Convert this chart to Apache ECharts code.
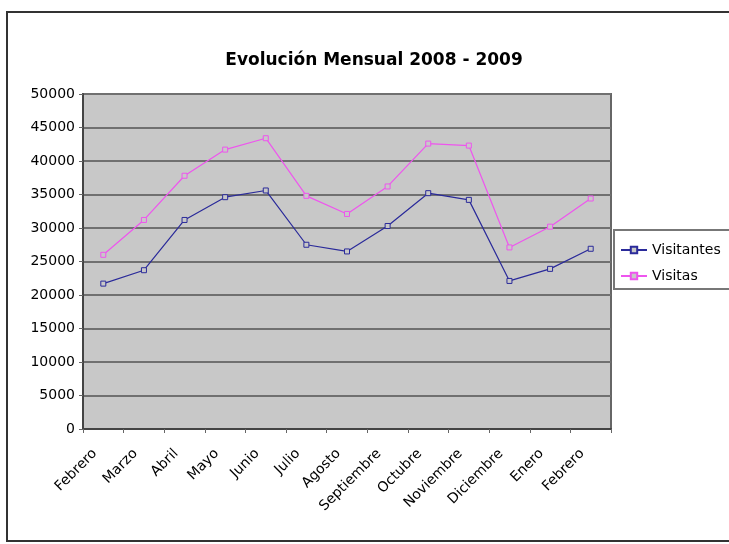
<!DOCTYPE html>
<html><head><meta charset="utf-8">
<script src="https://cdn.jsdelivr.net/npm/echarts@6/dist/echarts.min.js"></script>
<style>html,body{margin:0;padding:0;background:#fff}#c{width:729px;height:544px}</style>
</head><body><div id="c"></div>
<script>
const titleText = 'Evolución Mensual 2008 - 2009';
const months = ['Febrero','Marzo','Abril','Mayo','Junio','Julio','Agosto','Septiembre','Octubre','Noviembre','Diciembre','Enero','Febrero'];
const visitantes = [21700,23700,31200,34600,35600,27500,26500,30300,35200,34200,22100,23900,26900];
const visitas = [26000,31200,37800,41700,43400,34800,32100,36200,42600,42300,27100,30200,34400];
const seriesNames = ['Visitantes','Visitas'];

const chart = echarts.init(document.getElementById('c'));
const font = 'DejaVu Sans';
chart.setOption({
  animation:false,
  backgroundColor:'#fff',
  graphic:[{type:'rect',shape:{x:7,y:12,width:730,height:529},style:{fill:'none',stroke:'#333',lineWidth:2},z:-1}],
  title:{text:titleText,left:369,textAlign:'center',top:47,textStyle:{fontFamily:font,fontSize:17,fontWeight:'bold',color:'#000'}},
  legend:{orient:'vertical',left:614,top:230,data:seriesNames,itemWidth:26,itemHeight:8,itemGap:12,
    padding:[13,14,6,6],borderColor:'#777',borderWidth:2,backgroundColor:'#fff',
    textStyle:{fontFamily:font,fontSize:14,color:'#000'}},
  grid:{left:83,right:118,top:94,bottom:115,show:true,backgroundColor:'#c8c8c8',borderColor:'#666',borderWidth:2},
  xAxis:{type:'category',data:months,boundaryGap:true,
    axisLine:{lineStyle:{color:'#444',width:2}},
    axisTick:{show:true,interval:0,length:4,lineStyle:{color:'#666'}},
    axisLabel:{interval:0,rotate:45,fontFamily:font,fontSize:14,color:'#000',margin:14,padding:[0,12,0,0]}},
  yAxis:{type:'value',min:0,max:50000,interval:5000,
    axisLine:{show:true,lineStyle:{color:'#444',width:2}},
    axisTick:{show:true,length:4,lineStyle:{color:'#666'}},
    splitLine:{lineStyle:{color:'#707070',width:2}},
    axisLabel:{fontFamily:font,fontSize:14,color:'#000',margin:8,formatter:v=>String(v)}},
  series:[
    {name:seriesNames[0],type:'line',data:visitantes,color:'#2a2a9a',symbol:'rect',symbolSize:5,
      lineStyle:{width:1.2,color:'#2a2a9a'},itemStyle:{color:'#c8c8c8',borderColor:'#2a2a9a',borderWidth:1}},
    {name:seriesNames[1],type:'line',data:visitas,color:'#ee55ee',symbol:'rect',symbolSize:5,
      lineStyle:{width:1.2,color:'#ee55ee'},itemStyle:{color:'#c8c8c8',borderColor:'#ee55ee',borderWidth:1}}
  ]
});
</script></body></html>
